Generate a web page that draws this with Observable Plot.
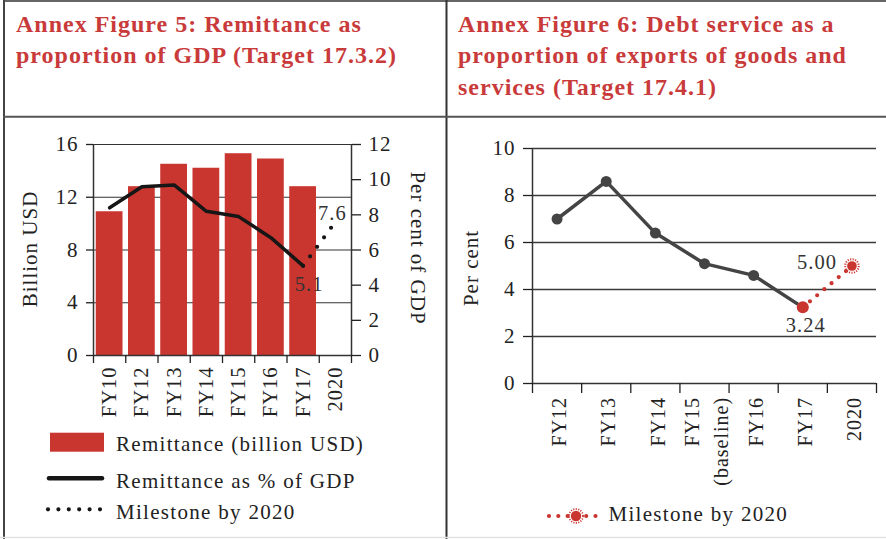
<!DOCTYPE html>
<html>
<head>
<meta charset="utf-8">
<script src="https://cdn.jsdelivr.net/npm/d3@7"></script>
<script src="https://cdn.jsdelivr.net/npm/@observablehq/plot@0.6"></script>
<style>
  body { margin: 0; background: #fff; }
  #page { position: relative; width: 886px; height: 539px; overflow: hidden; font-family: "Liberation Serif", serif; }
  #frame { position: absolute; left: 0; top: 0; }
  .chart { position: absolute; }
</style>
</head>
<body>
<div id="page">
  <svg id="frame" width="886" height="539" font-family="Liberation Serif">
    <line x1="3" y1="1" x2="886" y2="1" stroke="#333" stroke-width="1.5"/>
    <line x1="4" y1="0" x2="4" y2="539" stroke="#444" stroke-width="2"/>
    <line x1="446.5" y1="0" x2="446.5" y2="539" stroke="#333" stroke-width="2"/>
    <line x1="3" y1="116.7" x2="886" y2="116.7" stroke="#555" stroke-width="2"/>
    <line x1="0" y1="537.5" x2="886" y2="537.5" stroke="#e2e2e2" stroke-width="1.5"/>
    <g fill="#c93a3a" font-weight="bold" font-size="24" style="letter-spacing:1px">
      <text x="16" y="31.7">Annex Figure 5: Remittance as</text>
      <text x="16" y="63.3">proportion of GDP (Target 17.3.2)</text>
      <text x="458" y="31.7">Annex Figure 6: Debt service as a</text>
      <text x="458" y="63.3">proportion of exports of goods and</text>
      <text x="458" y="95">services (Target 17.4.1)</text>
    </g>
    <g id="legA" fill="#222" font-size="21" style="letter-spacing:1.3px"></g>
    <g id="legB" fill="#222" font-size="21" style="letter-spacing:1.3px"></g>
  </svg>
  <div id="chartA" class="chart" style="left:0px;top:120px;width:440px;"></div>
  <div id="chartB" class="chart" style="left:446px;top:120px;width:440px;"></div>
</div>
<script>
// ---------- Data: Annex Figure 5 ----------
const catsA = ["FY10", "FY12", "FY13", "FY14", "FY15", "FY16", "FY17", "2020"];
const remitUSD = [10.9, 12.8, 14.5, 14.2, 15.3, 14.9, 12.8, null];
const remitPct = [8.4, 9.6, 9.7, 8.2, 7.9, 6.7, 5.1, null];
const milestoneCatsA = ["FY17", "2020"];
const milestoneValsA = [5.1, 7.6];
const leftTicksA = [0, 4, 8, 12, 16];
const rightTicksA = [0, 2, 4, 6, 8, 10, 12];
const legendA = ["Remittance (billion USD)", "Remittance as % of GDP", "Milestone by 2020"];

// ---------- Data: Annex Figure 6 ----------
const catsB = ["FY12", "FY13", "FY14", "FY15\n(baseline)", "FY16", "FY17", "2020"];
const debtPct = [7.0, 8.6, 6.4, 5.1, 4.6, 3.24, null];
const milestoneCatsB = ["FY17", "2020"];
const milestoneValsB = [3.24, 5.00];
const ticksB = [0, 2, 4, 6, 8, 10];
const legendB = ["Milestone by 2020"];

const RED = "#c9352f";
const FONT = "Liberation Serif";

// ---------- Chart A ----------
const k = 16 / 12; // right axis (per cent) mapped onto left axis (billion USD)
const barsA = catsA.map((c, i) => ({i, c, v: remitUSD[i]})).filter(d => d.v != null);
const pctA = catsA.map((c, i) => ({i, c, v: remitPct[i]})).filter(d => d.v != null);
const mileA = milestoneCatsA.map((c, j) => ({i: catsA.indexOf(c), v: milestoneValsA[j]}));

const plotA = Plot.plot({
  width: 440, height: 300,
  marginLeft: 93, marginRight: 89, marginTop: 24, marginBottom: 65,
  style: {fontFamily: FONT, fontSize: "20px", letterSpacing: "1px", color: "#222", background: "transparent", overflow: "visible"},
  x: {type: "linear", domain: [0, catsA.length], axis: null},
  y: {domain: [0, 16], axis: null},
  marks: [
    Plot.ruleY([4, 8, 12, 16], {stroke: "#333", strokeWidth: 1.2}),
    Plot.rectY(barsA, {x1: d => d.i + 0.085, x2: d => d.i + 0.915, y: "v", fill: RED}),
    Plot.ruleY([0], {stroke: "#333", strokeWidth: 1.5}),
    Plot.ruleX([0, catsA.length], {y1: 0, y2: 16, stroke: "#333", strokeWidth: 1.5}),
    Plot.axisY({anchor: "left", ticks: leftTicksA, tickSize: 7, tickPadding: 8, label: null, fontSize: 21, strokeWidth: 1.3}),
    Plot.axisY({anchor: "right", ticks: rightTicksA.map(t => t * k), tickFormat: d => String(Math.round(d / k)), tickSize: 9, tickPadding: 8, label: null, fontSize: 21, strokeWidth: 1.3}),
    Plot.axisX({anchor: "bottom", ticks: d3.range(catsA.length + 1), tickFormat: () => "", tickSize: 8, label: null, strokeWidth: 1.3}),
    Plot.text(catsA, {x: (d, i) => i + 0.5, y: 0, text: d => d, rotate: -90, textAnchor: "end", lineAnchor: "middle", dy: 11, fontSize: 20.5}),
    Plot.line(pctA, {x: d => d.i + 0.5, y: d => d.v * k, stroke: "#161616", strokeWidth: 3.5}),
    Plot.line(mileA, {x: d => d.i + 0.5, y: d => d.v * k, stroke: "#161616", strokeWidth: 4.2, strokeDasharray: "0,11.8", strokeLinecap: "round"}),
    Plot.text([pctA[pctA.length - 1]], {x: d => d.i + 0.5, y: d => d.v * k, text: d => String(d.v), dx: 6, dy: 19, fontSize: 20.5, fill: "#333"}),
    Plot.text([mileA[mileA.length - 1]], {x: d => d.i + 0.5, y: d => d.v * k, text: d => String(d.v), dx: -3, dy: -8, fontSize: 20.5, fill: "#333"}),
    Plot.text(["Billion USD"], {frameAnchor: "left", textAnchor: "middle", rotate: -90, dx: -63, dy: -1, fontSize: 21, fill: "#222"}),
    Plot.text(["Per cent of GDP"], {frameAnchor: "right", textAnchor: "middle", rotate: 90, dx: 66, dy: -2, fontSize: 21, fill: "#222"})
  ]
});
document.getElementById("chartA").appendChild(plotA);

// ---------- Chart B ----------
const ptsB = catsB.map((c, i) => ({i, c, v: debtPct[i]})).filter(d => d.v != null);
const mileB = milestoneCatsB.map((c, j) => ({i: catsB.indexOf(c), v: milestoneValsB[j]}));
const f2 = d3.format(".2f");

const plotB = Plot.plot({
  width: 440, height: 380,
  marginLeft: 86, marginRight: 10, marginTop: 28, marginBottom: 117,
  style: {fontFamily: FONT, fontSize: "20px", letterSpacing: "1px", color: "#222", background: "transparent", overflow: "visible"},
  x: {type: "linear", domain: [0, catsB.length], axis: null},
  y: {domain: [0, 10], axis: null},
  marks: [
    Plot.ruleY(ticksB.filter(t => t > 0), {stroke: "#3a3a3a", strokeWidth: 1.3}),
    Plot.ruleY([0], {stroke: "#333", strokeWidth: 1.5}),
    Plot.ruleX([0], {y1: 0, y2: 10, stroke: "#333", strokeWidth: 1.5}),
    Plot.axisY({anchor: "left", ticks: ticksB, tickSize: 9, tickPadding: 8, label: null, fontSize: 21, strokeWidth: 1.3}),
    Plot.axisX({anchor: "bottom", ticks: d3.range(catsB.length + 1), tickFormat: () => "", tickSize: 10, label: null, strokeWidth: 1.3}),
    Plot.text(catsB, {x: (d, i) => i + 0.5, y: 0, text: d => d, rotate: -90, textAnchor: "end", lineAnchor: "middle", dy: 13.4, lineHeight: 1.45, fontSize: 20}),
    Plot.line(ptsB, {x: d => d.i + 0.5, y: "v", stroke: "#444", strokeWidth: 3.5}),
    Plot.dot(ptsB.slice(0, -1), {x: d => d.i + 0.5, y: "v", r: 5.5, fill: "#444"}),
    Plot.line(mileB, {x: d => d.i + 0.5, y: "v", stroke: RED, strokeWidth: 4.2, strokeDasharray: "0,9.4", strokeLinecap: "round"}),
    Plot.dot([mileB[0]], {x: d => d.i + 0.5, y: "v", r: 6, fill: RED}),
    Plot.dot([mileB[1]], {x: d => d.i + 0.5, y: "v", r: 4.8, fill: RED}),
    Plot.dot([mileB[1]], {x: d => d.i + 0.5, y: "v", r: 6.8, fill: "none", stroke: RED, strokeWidth: 2, strokeDasharray: "1.1,1.4"}),
    Plot.text([mileB[0]], {x: d => d.i + 0.5, y: "v", text: d => f2(d.v), dx: 3, dy: 18, fontSize: 20.5, fill: "#333"}),
    Plot.text([mileB[1]], {x: d => d.i + 0.5, y: "v", text: d => f2(d.v), textAnchor: "end", dx: -15, dy: -4, fontSize: 20.5, fill: "#333"}),
    Plot.text(["Per cent"], {frameAnchor: "left", textAnchor: "middle", rotate: -90, dx: -61, dy: 2, fontSize: 21, fill: "#222"})
  ]
});
document.getElementById("chartB").appendChild(plotB);

// ---------- Legends ----------
const NS = "http://www.w3.org/2000/svg";
function el(parent, name, attrs, text) {
  const e = document.createElementNS(NS, name);
  for (const [a, v] of Object.entries(attrs)) e.setAttribute(a, v);
  if (text != null) e.textContent = text;
  parent.appendChild(e);
  return e;
}
const gA = document.getElementById("legA");
el(gA, "rect", {x: 50, y: 432.7, width: 54, height: 19, fill: RED});
el(gA, "text", {x: 116, y: 450.5}, legendA[0]);
el(gA, "line", {x1: 49, y1: 478.3, x2: 102, y2: 478.3, stroke: "#161616", "stroke-width": 4.5, "stroke-linecap": "round"});
el(gA, "text", {x: 116, y: 488}, legendA[1]);
el(gA, "line", {x1: 48, y1: 509.3, x2: 100, y2: 509.3, stroke: "#161616", "stroke-width": 4.2, "stroke-dasharray": "0,10.4", "stroke-linecap": "round"});
el(gA, "text", {x: 116, y: 518.5}, legendA[2]);

const gB = document.getElementById("legB");
el(gB, "line", {x1: 549, y1: 516, x2: 596, y2: 516, stroke: RED, "stroke-width": 4.2, "stroke-dasharray": "0,9.3", "stroke-linecap": "round"});
el(gB, "circle", {cx: 576, cy: 516, r: 5.2, fill: RED});
el(gB, "circle", {cx: 576, cy: 516, r: 7, fill: "none", stroke: RED, "stroke-width": 1.8, "stroke-dasharray": "1.1,1.4"});
el(gB, "text", {x: 608.5, y: 520.7}, legendB[0]);
</script>
</body>
</html>
